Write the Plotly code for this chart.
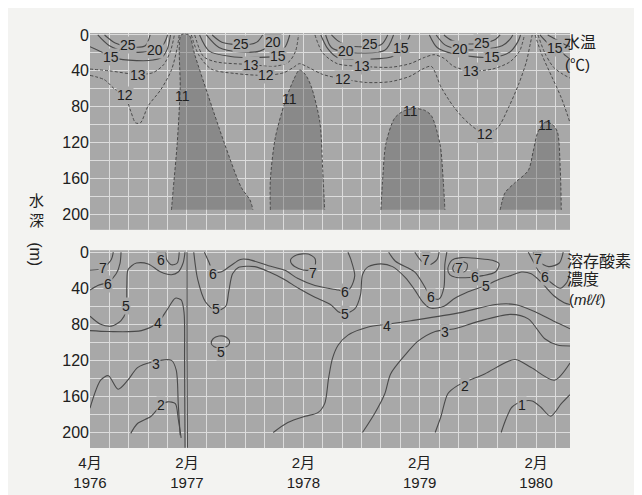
import plotly.graph_objects as go

# ---------------- axis ticks ----------------
X_TICK_MONTHS = [0, 10, 22, 34, 46]            # months since April 1976
X_TICK_TEXT = ["4月<br>1976", "2月<br>1977", "2月<br>1978", "2月<br>1979", "2月<br>1980"]
Y_TICK_DEPTHS = [0, 40, 80, 120, 160, 200]
Y_TICK_TEXT = ["0", "40", "80", "120", "160", "200"]

# ------------- 水温 (°C): isotherms, points = (month, depth m) -------------
T11_REGION_1 = [(8.4, 195), (8.6, 170), (9.0, 120), (9.3, 60), (9.4, 0), (10.2, 0), (10.8, 22),
                (12.2, 68), (13.9, 122), (15.6, 170), (16.5, 184), (16.8, 195)]
T11_REGION_2 = [(18.6, 195), (18.6, 162), (19.1, 115), (20.1, 75), (21.0, 50), (21.6, 39), (22.2, 44),
                (22.8, 57), (23.7, 97), (24.0, 151), (24.2, 195)]
T11_REGION_3 = [(30.0, 195), (30.2, 158), (30.5, 122), (31.4, 93), (32.3, 85), (33.5, 82), (34.5, 84),
                (35.2, 90), (36.1, 122), (36.4, 158), (36.6, 195)]
T11_REGION_4 = [(42.3, 195), (42.8, 176), (43.8, 165), (45.2, 151), (45.7, 130), (46.2, 108), (47.0, 97),
                (47.7, 100), (48.2, 108), (48.5, 151), (48.6, 195)]

T12_A = [(0, 45), (1.5, 50), (2.5, 60), (3.6, 68), (4.2, 85), (4.7, 98), (5.2, 98), (6.0, 79), (7.3, 61),
         (8.4, 39), (9.0, 14), (9.2, 0)]
T12_B = [(10.45, 0), (11.2, 22), (12.5, 38), (15, 43), (18.2, 45), (20, 42), (21, 36), (21.6, 32), (22.5, 36),
         (24, 44), (26.1, 49), (28.5, 53), (31, 52), (33, 46), (34.3, 38), (35.2, 35), (36.2, 58), (37.5, 80),
         (39, 98), (40.7, 110), (42, 104), (43.2, 80), (44.2, 55), (45, 30), (45.4, 10), (45.6, 0)]
T12_E = [(45.9, 0), (46.6, 22), (47.6, 46), (48.6, 70), (49.2, 88), (49.5, 98)]

T13_A = [(0, 38), (2, 40), (4.9, 44), (6.5, 42), (7.6, 33), (8.3, 18), (8.7, 0)]
T13_B = [(10.8, 0), (11.7, 24), (13, 30), (16.6, 33), (19, 35), (20.5, 30), (21.2, 18), (21.5, 0)]
T13_C = [(23.2, 0), (24, 20), (25.5, 32), (28.1, 35), (31, 36), (33, 32), (34.5, 25), (35.5, 22), (36.5, 26),
         (37.5, 35), (39.3, 40), (41.5, 38), (43.3, 30), (44.3, 18), (44.8, 0)]
T13_E = [(46.2, 0), (46.9, 20), (47.8, 36), (48.8, 44), (49.5, 48)]

T15_A = [(0, 13), (1.2, 19), (2.2, 25), (4, 28), (6.5, 28), (7.5, 24), (8, 15), (8.3, 0)]
T15_B = [(11.3, 0), (12.3, 18), (14.5, 24), (17, 25), (19.4, 23), (20.2, 12), (20.6, 0)]
T15_C = [(23.8, 0), (24.5, 15), (25.5, 25), (28.5, 27), (31.2, 24), (32.2, 15), (32.8, 5), (33, 0)]
T15_D = [(35, 0), (35.8, 14), (37.5, 21), (41.5, 25), (43.3, 19), (44.1, 8), (44.4, 0)]
T15_E = [(46.4, 0), (47.2, 9), (48, 14), (48.8, 21), (49.5, 27)]

T20_A = [(0.8, 0), (2, 12), (4, 19), (6.7, 17), (7.6, 10), (8.0, 0)]
T20_B = [(12, 0), (13.3, 14), (15.5, 19), (17.5, 18), (18.9, 9), (19.3, 0)]
T20_C = [(24.3, 0), (24.9, 14), (26.3, 19), (30.4, 17), (31.3, 0)]
T20_D = [(35.7, 0), (36.6, 11), (38.2, 16), (40.5, 16), (42.5, 12), (43.3, 5), (43.6, 0)]
T20_E = [(47.2, 0), (48.2, 6), (49, 11), (49.5, 13)]

T25_A = [(1.5, 0), (2.6, 9), (3.9, 13), (5.7, 12), (6.2, 0)]
T25_B = [(12.6, 0), (13.6, 8), (15.6, 11), (17.2, 8), (17.8, 0)]
T25_C = [(24.9, 0), (25.5, 6), (26.6, 12), (30, 11), (30.7, 0)]
T25_D = [(36.5, 0), (37.3, 6), (39, 10), (40.5, 9), (41.8, 5), (42.3, 0)]

TEMP_REGIONS_11 = [T11_REGION_1, T11_REGION_2, T11_REGION_3, T11_REGION_4]
TEMP_DASHED = [T12_A, T12_B, T12_E, T13_A, T13_B, T13_C, T13_E]
TEMP_SOLID = [T15_A, T15_B, T15_C, T15_D, T15_E, T20_A, T20_B, T20_C, T20_D, T20_E,
              T25_A, T25_B, T25_C, T25_D]

TEMP_LABEL_TEXT = ["25", "20", "15", "13", "12",
                   "25", "20", "15", "13", "12",
                   "25", "20", "15", "13", "12",
                   "25", "20", "15", "13", "12", "15"]
TEMP_LABEL_MONTH = [3.9, 6.7, 2.2, 4.9, 3.6,
                    15.6, 18.9, 19.4, 16.6, 18.2,
                    28.9, 26.4, 32.1, 28.1, 26.1,
                    40.4, 38.2, 41.5, 39.3, 40.7, 48.0]
TEMP_LABEL_DEPTH = [11, 17, 25, 45, 67,
                    10, 8, 23, 33, 45,
                    10, 18, 15, 35, 49,
                    9, 16, 25, 40, 110, 14]
T11_LABEL_MONTH = [9.5, 20.6, 33.0, 47.0]
T11_LABEL_DEPTH = [68, 71, 85, 100]

# ------------- 溶存酸素濃度 (ml/l): isopleths, points = (month, depth m) -------------
DO_7_A = [(0, 20), (1.3, 18), (2.2, 8), (2.4, 0)]
DO_6_A = [(0, 42), (0.8, 37), (1.9, 33), (2.7, 24), (3.1, 12), (3.2, 0)]
DO_5_A = [(0, 71), (1.1, 80), (2.2, 82), (3.2, 76), (3.7, 66), (3.8, 37), (3.9, 20), (4.3, 15), (4.8, 12),
          (6, 13), (7.3, 22), (8.4, 25), (9.1, 22), (9.6, 12), (9.8, 0)]
DO_6_B = [(7.8, 0), (7.9, 8), (8.4, 14), (9.0, 12), (9.2, 0)]
DO_4_A = [(0, 87), (1.9, 88), (5.3, 87), (7, 78), (8, 63), (8.8, 51), (9.4, 53), (9.7, 67), (9.75, 120),
          (9.8, 217)]
DO_SEP = [(10.0, 0), (10.0, 110), (10.05, 217)]
DO_3_A = [(0, 173), (1.1, 142), (1.9, 137), (2.9, 152), (3.9, 142), (4.9, 128), (6.3, 122), (8.4, 120),
          (8.9, 131), (9.1, 168), (9.3, 203)]
DO_2_A = [(4.2, 201), (4.9, 190), (6.3, 182), (7.3, 170), (8, 166), (8.8, 168), (9.1, 185), (9.4, 206)]
DO_6_C = [(11.8, 0), (12.3, 12), (12.7, 22), (13.5, 22), (14.5, 15), (15.5, 8), (16.3, 8), (18.4, 15),
          (20.1, 20), (21.4, 29), (23.2, 37), (25.6, 42), (26.3, 44), (26.9, 39), (27.3, 26), (26.9, 8),
          (26.6, 0)]
DO_5_B = [(10.7, 0), (11.1, 30), (11.9, 55), (13, 65), (14, 60), (14.3, 44), (14.7, 24), (15.3, 17), (17, 16),
          (18.5, 22), (20, 30), (21.5, 40), (23.2, 50), (24.8, 58), (25.6, 66), (26.3, 68), (27.3, 63),
          (27.9, 47), (28.1, 25), (28.7, 16), (30, 13), (31.2, 16), (32.5, 28), (33.5, 42), (34.3, 55),
          (35.1, 62), (36.5, 60), (37.5, 52), (39, 44), (40.8, 37), (42.2, 30), (43.4, 26), (44.5, 22),
          (45.5, 24), (46.5, 33), (47.8, 48), (48.9, 56), (49.5, 58)]
DO_5_LOOP = [(12.5, 101), (12.7, 96), (13.3, 93), (14, 94), (14.4, 99), (14.2, 104), (13.5, 106), (12.8, 105),
             (12.5, 101)]
DO_7_B = [(20.7, 8), (21.3, 3), (22.5, 2), (23.2, 7), (23.2, 15), (22.5, 20), (21.5, 18), (20.8, 13), (20.7, 8)]
DO_4_B = [(18.9, 200), (20.4, 189), (22.2, 182), (23.5, 178), (24.2, 168), (24.6, 140), (25, 118),
          (25.6, 103), (26.6, 92), (28.7, 83), (30.6, 80), (33.1, 76), (38.2, 67), (41.8, 58), (43.8, 58),
          (45.9, 66), (47.9, 77), (49.5, 85)]
DO_3_B = [(28.1, 200), (29.4, 178), (30.4, 157), (31, 135), (32.5, 114), (33.8, 99), (35.6, 88), (37.6, 85),
          (40, 77), (43.4, 69), (45.2, 74), (46.9, 96), (48.2, 103), (49.5, 104)]
DO_2_B = [(35.6, 200), (36.2, 182), (36.9, 157), (37.9, 148), (40.7, 135), (43.8, 119), (45.5, 128),
          (47.9, 142), (49.5, 123)]
DO_1 = [(42.4, 200), (42.9, 185), (43.5, 172), (44.5, 166), (45.6, 165), (46.5, 172), (47.5, 182), (48.6, 168),
        (49.5, 158)]
DO_6_D = [(30.8, 0), (31.5, 10), (33.5, 22), (34.5, 38), (35.2, 50), (36, 52), (36.5, 39), (36.6, 13), (36.8, 0)]
DO_7_C = [(33.5, 0), (34.2, 10), (35, 14), (35.8, 8), (36, 0)]
DO_6_E = [(36.9, 18), (37.3, 9), (38.3, 6), (40, 7), (41.5, 9), (42.2, 13), (41.8, 22), (40.5, 26), (39.2, 28),
          (37.8, 28), (37.1, 25), (36.9, 18)]
DO_7_D = [(37.4, 18), (37.7, 12), (38.3, 10), (38.9, 13), (38.8, 20), (38.1, 23), (37.6, 22), (37.4, 18)]
DO_7_E = [(45.7, 0), (46.2, 10), (47.3, 16), (48.4, 12), (48.8, 0)]
DO_6_F = [(45.2, 0), (45.7, 10), (46.2, 20), (46.9, 28), (47.7, 35), (48.5, 40), (49.2, 33), (49.5, 22)]

DO_LINES = [DO_7_A, DO_6_A, DO_5_A, DO_6_B, DO_4_A, DO_SEP, DO_3_A, DO_2_A, DO_6_C, DO_5_B, DO_5_LOOP,
            DO_7_B, DO_4_B, DO_3_B, DO_2_B, DO_1, DO_6_D, DO_7_C, DO_6_E, DO_7_D, DO_7_E, DO_6_F]

DO_LABEL_TEXT = ["7", "6", "5", "4", "3", "2", "6",
                 "6", "5", "5", "7", "6", "5", "4",
                 "7", "6", "7", "6", "5", "3", "2", "1", "7", "6"]
DO_LABEL_MONTH = [1.3, 1.9, 3.7, 7.0, 6.8, 7.3, 7.3,
                  12.7, 13.0, 13.5, 23.0, 26.3, 26.3, 30.6,
                  34.6, 35.2, 38.1, 39.7, 40.8, 36.6, 38.7, 44.6, 46.2, 46.9]
DO_LABEL_DEPTH = [17, 35, 60, 78, 124, 169, 9,
                  24, 63, 111, 23, 44, 68, 82,
                  9, 50, 18, 27, 37, 88, 148, 170, 7, 28]

# ---------------- styling ----------------
PLOT_BG = "#a8a8a8"
DARK_FILL = "rgba(95,95,95,0.42)"
GRID = "#dcdcdc"
LINE = "#4a4a4a"
TEXT = "#202020"
FONT = "Liberation Sans, Noto Sans CJK JP, sans-serif"


def xs(path):
    return [p[0] for p in path]


def ys(path):
    return [p[1] for p in path]


fig = go.Figure()

# upper panel: 11 °C regions
for reg in TEMP_REGIONS_11:
    fig.add_trace(go.Scatter(x=xs(reg), y=ys(reg), mode="lines", fill="toself", fillcolor=DARK_FILL,
                             line=dict(color=LINE, width=1, dash="3px,2px", shape="spline", smoothing=0.8),
                             xaxis="x", yaxis="y", hoverinfo="skip", showlegend=False))
for path in TEMP_DASHED:
    fig.add_trace(go.Scatter(x=xs(path), y=ys(path), mode="lines",
                             line=dict(color=LINE, width=1, dash="3px,2px", shape="spline", smoothing=0.8),
                             xaxis="x", yaxis="y", hoverinfo="skip", showlegend=False))
for path in TEMP_SOLID:
    fig.add_trace(go.Scatter(x=xs(path), y=ys(path), mode="lines",
                             line=dict(color=LINE, width=1.1, shape="spline", smoothing=0.8),
                             xaxis="x", yaxis="y", hoverinfo="skip", showlegend=False))

# lower panel
for path in DO_LINES:
    fig.add_trace(go.Scatter(x=xs(path), y=ys(path), mode="lines",
                             line=dict(color=LINE, width=1.1, shape="spline", smoothing=0.8),
                             xaxis="x2", yaxis="y2", hoverinfo="skip", showlegend=False))

annotations = []
for t, m, d in zip(TEMP_LABEL_TEXT, TEMP_LABEL_MONTH, TEMP_LABEL_DEPTH):
    annotations.append(dict(x=m, y=d, xref="x", yref="y", text=t, showarrow=False,
                            font=dict(size=14, color=TEXT), bgcolor=PLOT_BG, borderpad=0))
for m, d in zip(T11_LABEL_MONTH, T11_LABEL_DEPTH):
    annotations.append(dict(x=m, y=d, xref="x", yref="y", text="11", showarrow=False,
                            font=dict(size=14, color=TEXT)))
for t, m, d in zip(DO_LABEL_TEXT, DO_LABEL_MONTH, DO_LABEL_DEPTH):
    annotations.append(dict(x=m, y=d, xref="x2", yref="y2", text=t, showarrow=False,
                            font=dict(size=14, color=TEXT), bgcolor=PLOT_BG, borderpad=0))

# side texts
annotations += [
    dict(x=0.983, y=0.9766, xref="paper", yref="paper", xanchor="left", yanchor="middle",
         text="水温", showarrow=False, font=dict(size=16, color=TEXT)),
    dict(x=0.985, y=0.925, xref="paper", yref="paper", xanchor="left", yanchor="middle",
         text="(℃)", showarrow=False, font=dict(size=15, color=TEXT)),
    dict(x=0.989, y=0.4486, xref="paper", yref="paper", xanchor="left", yanchor="middle",
         text="溶存酸素", showarrow=False, font=dict(size=16, color=TEXT)),
    dict(x=0.989, y=0.4065, xref="paper", yref="paper", xanchor="left", yanchor="middle",
         text="濃度", showarrow=False, font=dict(size=16, color=TEXT)),
    dict(x=0.993, y=0.357, xref="paper", yref="paper", xanchor="left", yanchor="middle",
         text="(<i>mℓ/ℓ</i>)", showarrow=False, font=dict(size=15, color=TEXT)),
    dict(x=-0.1125, y=0.572, xref="paper", yref="paper", xanchor="center", yanchor="middle",
         text="水<br>深", showarrow=False, font=dict(size=15, color=TEXT)),
    dict(x=-0.1125, y=0.467, xref="paper", yref="paper", xanchor="center", yanchor="middle",
         text="(m)", textangle=90, showarrow=False, font=dict(size=16, color=TEXT)),
]

grid_common = dict(showgrid=True, gridcolor=GRID, gridwidth=1.3, zeroline=False, ticks="",
                   showline=False)

fig.update_layout(
    width=642, height=495,
    margin=dict(l=82, r=80, t=25, b=42),
    paper_bgcolor="#f3f3f1", plot_bgcolor=PLOT_BG,
    font=dict(family=FONT, size=16, color=TEXT),
    showlegend=False,
    annotations=annotations,
    xaxis=dict(domain=[0, 1], anchor="y", range=[0, 49.5], tickvals=X_TICK_MONTHS,
               showticklabels=False,
               minor=dict(tick0=0, dtick=2, showgrid=True, gridcolor=GRID, gridwidth=1.3),
               **grid_common),
    yaxis=dict(domain=[0.5257, 1], anchor="x", range=[217.3, -2.2], tickvals=Y_TICK_DEPTHS,
               ticktext=Y_TICK_TEXT,
               minor=dict(tick0=0, dtick=20, showgrid=True, gridcolor=GRID, gridwidth=1.3),
               **grid_common),
    xaxis2=dict(domain=[0, 1], anchor="y2", range=[0, 49.5], tickvals=X_TICK_MONTHS,
                ticktext=X_TICK_TEXT, tickfont=dict(size=15), ticklabelstandoff=4,
                minor=dict(tick0=0, dtick=2, showgrid=True, gridcolor=GRID, gridwidth=1.3),
                **grid_common),
    yaxis2=dict(domain=[0, 0.4766], anchor="x2", range=[217.2, -2.2], tickvals=Y_TICK_DEPTHS,
                ticktext=Y_TICK_TEXT,
                minor=dict(tick0=0, dtick=20, showgrid=True, gridcolor=GRID, gridwidth=1.3),
                **grid_common),
)

fig.write_html("out.html")
